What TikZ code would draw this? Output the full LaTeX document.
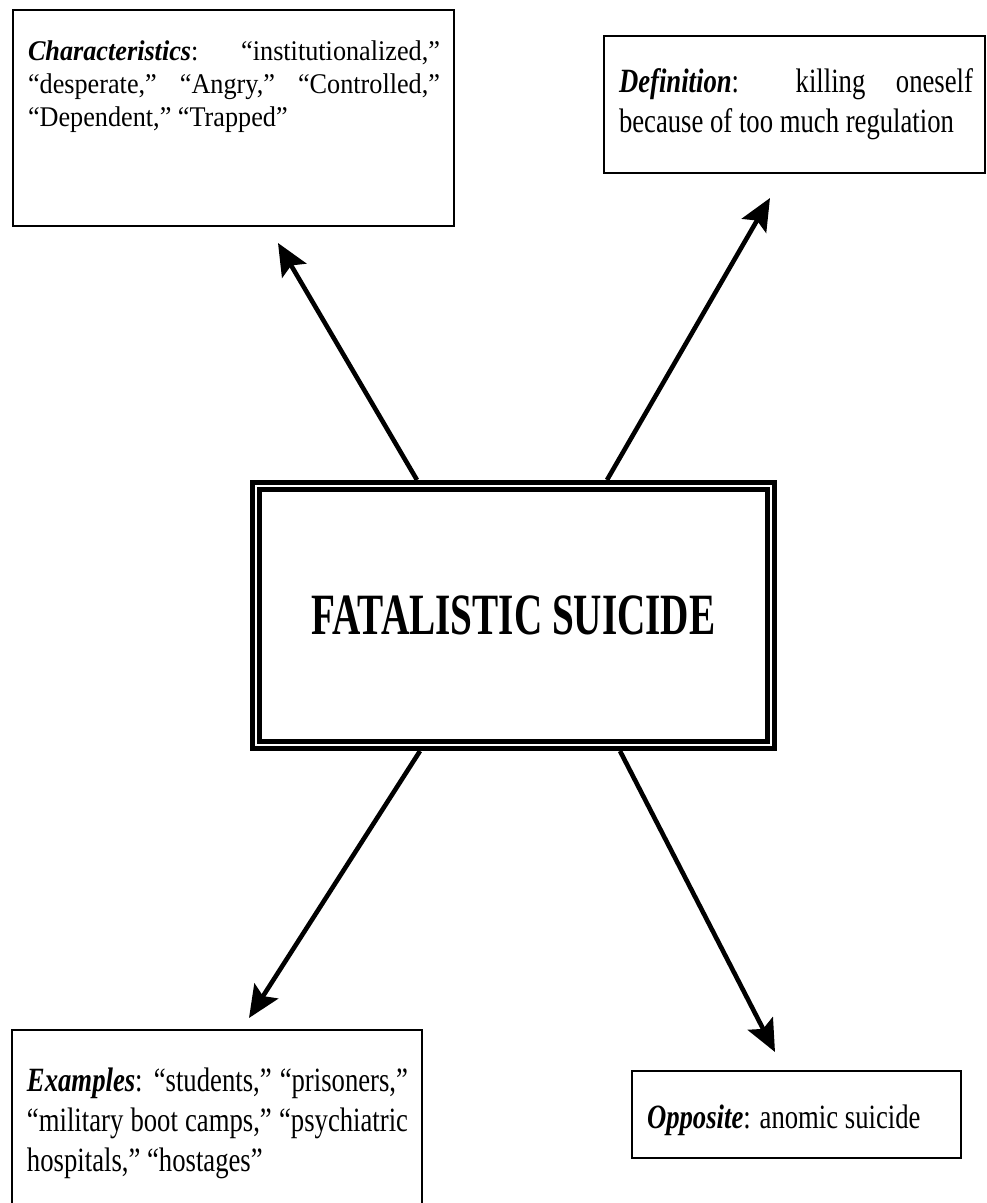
\documentclass[tikz,border=0pt]{standalone}
\usepackage{fontspec}
\setmainfont{Liberation Serif}
\newfontfamily\charfont{Liberation Serif}[FakeStretch=0.92]
\newfontfamily\boxfont{Liberation Serif}[FakeStretch=0.785]
\newfontfamily\titlefont{Liberation Serif}[FakeStretch=0.67]
\usetikzlibrary{arrows.meta,calc}
\hyphenpenalty=10000
\exhyphenpenalty=10000
\begin{document}
\begin{tikzpicture}[x=1pt,y=-1pt,
  box/.style={draw=black,line width=2pt,inner sep=0pt,outer sep=0pt,rectangle},
  txt/.style={inner sep=0pt,outer sep=0pt,align=justify,anchor=base west},
  smallfont/.style={font=\boxfont\fontsize{34}{40}\selectfont},
  arr/.style={line width=4.6pt,-{Stealth[length=32pt,width=28pt,inset=6pt]}}]
\useasboundingbox[fill=white] (0,0) rectangle (987,1203);

% central box
\node[draw=black,double=white,line width=5pt,double distance=1.7pt,
      minimum width=515.3pt,minimum height=259.3pt,inner sep=0pt,outer sep=5.85pt,
      font=\titlefont\bfseries\fontsize{58.5}{60}\selectfont]
  (main) at (513.5,615.5) {FATALISTIC SUICIDE};

% outer boxes
\node[box,minimum width=441pt,minimum height=216pt] (charbox) at (233.5,118) {};
\node[box,minimum width=381pt,minimum height=137pt] (defbox) at (794.5,104.5) {};
\node[box,minimum width=410pt,minimum height=190pt] (exbox) at (217,1125) {};
\node[box,minimum width=329pt,minimum height=87pt] (oppbox) at (796.5,1114.5) {};

% texts
\node[txt,text width=412pt,font=\charfont\fontsize{28.5}{33}\selectfont] (chartext) at (28,60)
  {\textbf{\textit{Characteristics}}: “institutionalized,”\linebreak “desperate,” “Angry,” “Controlled,”\linebreak “Dependent,” “Trapped”};
\node[txt,smallfont,text width=354pt] (deftext) at (619,92)
  {\textbf{\textit{Definition}}: killing oneself\linebreak because of too much regulation};
\node[txt,smallfont,text width=381pt] (extext) at (27,1091)
  {\textbf{\textit{Examples}}: “students,” “prisoners,”\linebreak “military boot camps,” “psychiatric\linebreak hospitals,” “hostages”};
\node[txt,smallfont,text width=300pt] (opptext) at (647,1128)
  {\textbf{\textit{Opposite}}: anomic suicide};

% arrow tips
\coordinate (tipchar) at (278,243);
\coordinate (tipdef) at (770,198);
\coordinate (tipex) at (249,1018);
\coordinate (tipopp) at (775,1052);

\draw[arr] ($(main.north west)!0.3169!(main.north east)$) -- (tipchar);
\draw[arr] ($(main.north west)!0.6774!(main.north east)$) -- (tipdef);
\draw[arr] ($(main.south west)!0.3226!(main.south east)$) -- (tipex);
\draw[arr] ($(main.south west)!0.7021!(main.south east)$) -- (tipopp);
\end{tikzpicture}
\end{document}
